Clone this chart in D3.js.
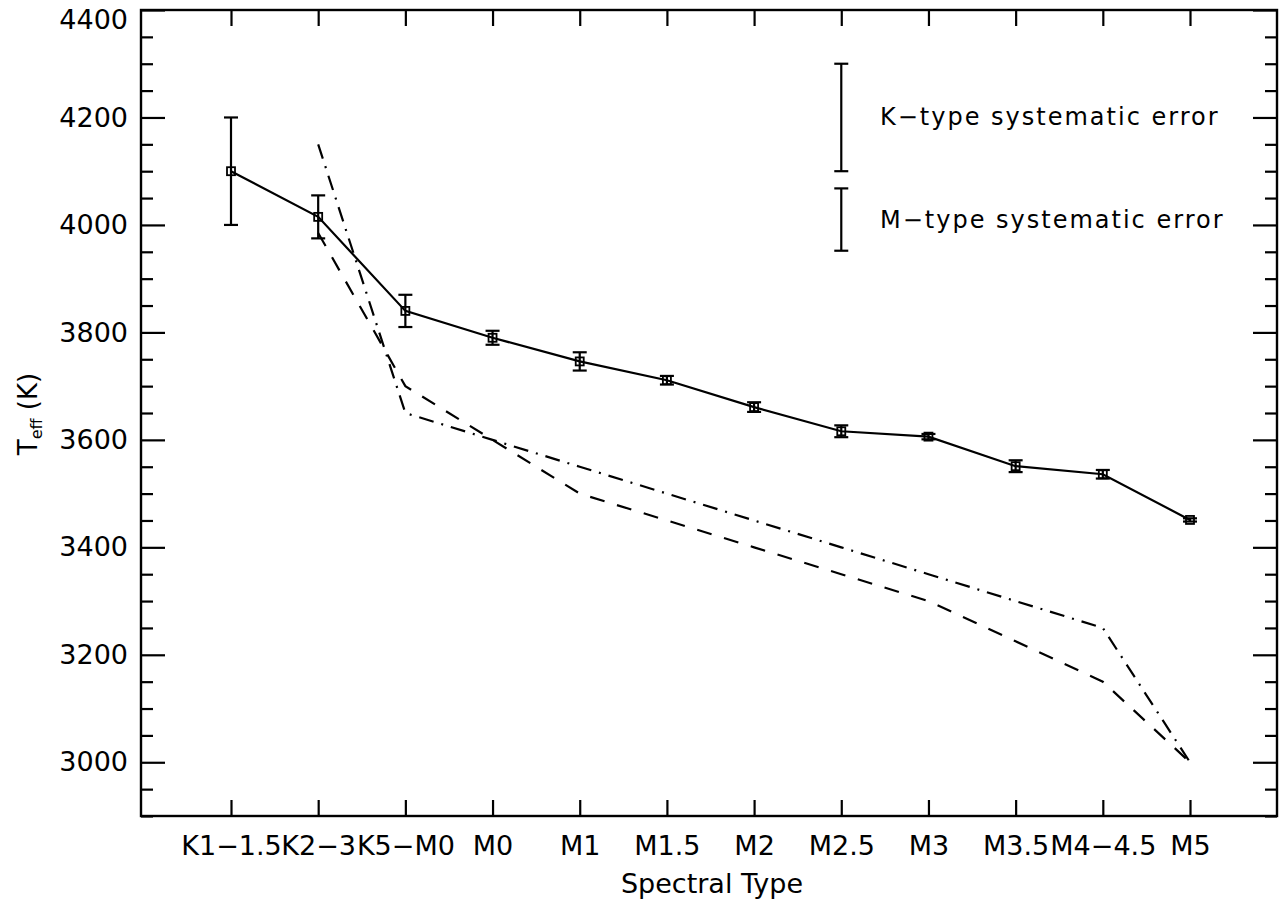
<!DOCTYPE html>
<meta charset="utf-8">
<head>
<style>
  body { margin: 0; background: #fff; }
  text { font-family: "DejaVu Sans", sans-serif; fill: #000; }
</style>
</head>
<body>
<script src="https://d3js.org/d3.v7.min.js"></script>
<div id="chart"></div>
<script>

// spectral type bins along the x axis
var spectralTypes = ["K1\u22121.5", "K2\u22123", "K5\u2212M0", "M0", "M1", "M1.5", "M2", "M2.5", "M3", "M3.5", "M4\u22124.5", "M5"];
// measured Teff with errors (solid line, squares)
var teffMeasured = [4100, 4015, 3840, 3790, 3746, 3711, 3661, 3616, 3606, 3551, 3536, 3451];
var teffError = [100, 40, 30, 13, 17, 8, 9, 11, 5, 11, 8, 3];
// comparison scales (no value for K1-1.5)
var teffDashed = [null, 3985, 3700, 3600, 3500, 3450, 3400, 3350, 3300, 3225, 3150, 3000];
var teffDashDot = [null, 4150, 3650, 3600, 3550, 3500, 3450, 3400, 3350, 3300, 3250, 3000];
// systematic error bars shown as a key
var sysLabels = ["K\u2212type systematic error", "M\u2212type systematic error"];
var sysCenter = [4200, 4010];
var sysError = [100, 58];

var yMajor = [3000, 3200, 3400, 3600, 3800, 4000, 4200, 4400];
var yMinor = d3.range(2900, 4401, 50).filter(function(v) { return yMajor.indexOf(v) < 0; });

var width = 1284, height = 901;
var frame = {left: 141, right: 1277, top: 10, bottom: 816};
var lw = 2.2;

var svg = d3.select("#chart").append("svg")
  .attr("width", width)
  .attr("height", height);

var x = d3.scaleLinear().domain([1, 12]).range([231, 1190]);
var y = d3.scaleLinear().domain([2900, 4400]).range([frame.bottom, frame.top]);

var idx = d3.range(1, spectralTypes.length + 1);

// axes: left (labels), right, bottom (labels), top
function styleAxis(g) {
  g.select(".domain").remove();
  g.selectAll("line").attr("stroke", "#000").attr("stroke-width", lw);
  g.selectAll("text").attr("font-size", 27).attr("fill", "#000");
}

var yAxisG = svg.append("g")
  .attr("transform", "translate(" + frame.left + ",0)")
  .call(d3.axisLeft(y).tickValues(yMajor).tickSize(-24).tickPadding(13).tickFormat(d3.format("d")))
  .call(styleAxis);
// top label would be cut at the page edge; nudge it down like the original
yAxisG.selectAll(".tick text")
  .filter(function(d) { return d === 4400; })
  .attr("dy", "0.7em");

svg.append("g")
  .attr("transform", "translate(" + frame.left + ",0)")
  .call(d3.axisLeft(y).tickValues(yMinor).tickSize(-12).tickFormat(""))
  .call(styleAxis);
svg.append("g")
  .attr("transform", "translate(" + frame.right + ",0)")
  .call(d3.axisRight(y).tickValues(yMajor).tickSize(-24).tickFormat(""))
  .call(styleAxis);
svg.append("g")
  .attr("transform", "translate(" + frame.right + ",0)")
  .call(d3.axisRight(y).tickValues(yMinor).tickSize(-12).tickFormat(""))
  .call(styleAxis);

svg.append("g")
  .attr("transform", "translate(0," + frame.bottom + ")")
  .call(d3.axisBottom(x).tickValues(idx).tickSize(-16).tickPadding(20)
    .tickFormat(function(d) { return spectralTypes[d - 1]; }))
  .call(styleAxis);
svg.append("g")
  .attr("transform", "translate(0," + frame.top + ")")
  .call(d3.axisTop(x).tickValues(idx).tickSize(-16).tickFormat(""))
  .call(styleAxis);

// frame
svg.append("rect")
  .attr("x", frame.left).attr("y", frame.top)
  .attr("width", frame.right - frame.left)
  .attr("height", frame.bottom - frame.top)
  .attr("fill", "none").attr("stroke", "#000").attr("stroke-width", 2.4);

// axis titles
svg.append("text")
  .attr("x", (frame.left + frame.right) / 2 + 3)
  .attr("y", 893)
  .attr("text-anchor", "middle")
  .attr("font-size", 27)
  .text("Spectral Type");

var ytitle = svg.append("text")
  .attr("transform", "translate(37,414) rotate(-90)")
  .attr("text-anchor", "middle")
  .attr("font-size", 26);
ytitle.append("tspan").text("T");
ytitle.append("tspan").attr("font-size", 16).attr("dy", 5).text("eff");
ytitle.append("tspan").attr("dy", -5).text(" (K)");

// comparison lines
function seriesLine(vals) {
  return d3.line()
    .defined(function(d) { return d != null; })
    .x(function(d, i) { return x(i + 1); })
    .y(function(d) { return y(d); })(vals);
}

svg.append("path")
  .attr("d", seriesLine(teffDashed))
  .attr("fill", "none").attr("stroke", "#000").attr("stroke-width", lw)
  .attr("stroke-dasharray", "15,13");
svg.append("path")
  .attr("d", seriesLine(teffDashDot))
  .attr("fill", "none").attr("stroke", "#000").attr("stroke-width", lw)
  .attr("stroke-dasharray", "15,8,2,8");

// measured values
svg.append("path")
  .attr("d", seriesLine(teffMeasured))
  .attr("fill", "none").attr("stroke", "#000").attr("stroke-width", lw);

var pts = svg.selectAll(".pt")
  .data(teffMeasured)
  .enter().append("g")
  .attr("class", "pt");

pts.append("line")
  .attr("x1", function(d, i) { return x(i + 1); })
  .attr("x2", function(d, i) { return x(i + 1); })
  .attr("y1", function(d, i) { return y(d - teffError[i]); })
  .attr("y2", function(d, i) { return y(d + teffError[i]); })
  .attr("stroke", "#000").attr("stroke-width", lw);
[-1, 1].forEach(function(s) {
  pts.append("line")
    .attr("x1", function(d, i) { return x(i + 1) - 7; })
    .attr("x2", function(d, i) { return x(i + 1) + 7; })
    .attr("y1", function(d, i) { return y(d + s * teffError[i]); })
    .attr("y2", function(d, i) { return y(d + s * teffError[i]); })
    .attr("stroke", "#000").attr("stroke-width", lw);
});
pts.append("rect")
  .attr("x", function(d, i) { return x(i + 1) - 4; })
  .attr("y", function(d) { return y(d) - 4; })
  .attr("width", 8).attr("height", 8)
  .attr("fill", "none").attr("stroke", "#000").attr("stroke-width", 1.8);

// systematic error key
var keyX = x(8);
var key = svg.selectAll(".key")
  .data(sysLabels)
  .enter().append("g")
  .attr("class", "key");

key.append("line")
  .attr("x1", keyX).attr("x2", keyX)
  .attr("y1", function(d, i) { return y(sysCenter[i] - sysError[i]); })
  .attr("y2", function(d, i) { return y(sysCenter[i] + sysError[i]); })
  .attr("stroke", "#000").attr("stroke-width", lw);
[-1, 1].forEach(function(s) {
  key.append("line")
    .attr("x1", keyX - 7).attr("x2", keyX + 7)
    .attr("y1", function(d, i) { return y(sysCenter[i] + s * sysError[i]); })
    .attr("y2", function(d, i) { return y(sysCenter[i] + s * sysError[i]); })
    .attr("stroke", "#000").attr("stroke-width", lw);
});
key.append("text")
  .attr("x", 880)
  .attr("y", function(d, i) { return y(sysCenter[i]) + 8; })
  .attr("font-size", 24)
  .attr("letter-spacing", 2)
  .text(function(d) { return d; });

</script>
</body>
